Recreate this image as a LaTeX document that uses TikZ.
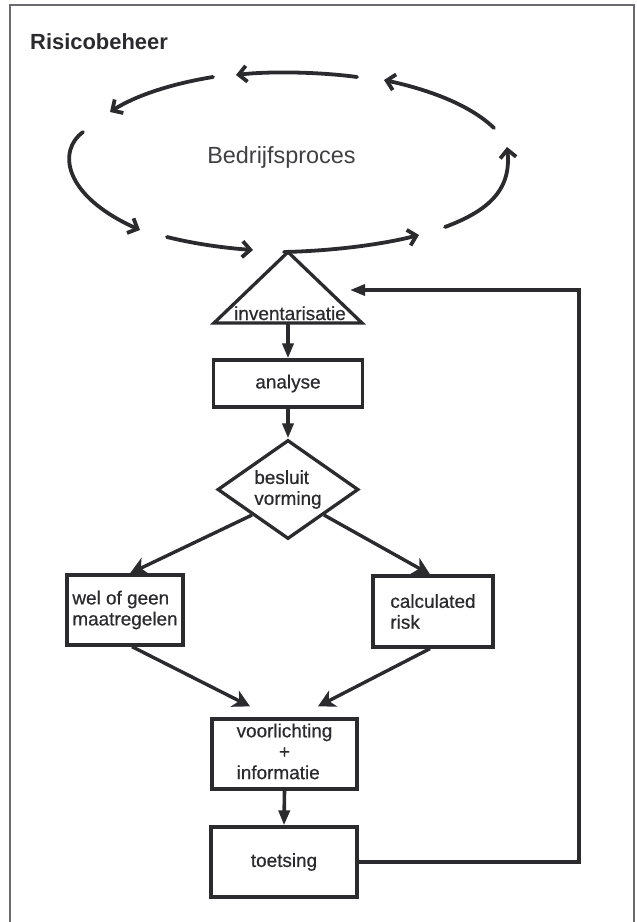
\documentclass[tikz,border=0pt]{standalone}
\usepackage{fontspec}
\setmainfont{Liberation Sans}
\newfontfamily\labelfont{Liberation Sans}[FakeBold=0.6]
\usetikzlibrary{arrows.meta,shapes.geometric}
\definecolor{ink}{HTML}{2B2B2E}
\definecolor{frame}{HTML}{6A6A70}

\begin{document}
\begin{tikzpicture}[x=1bp,y=-1bp,
  every node/.style={text=ink},
  lbl/.style={font=\labelfont\fontsize{19}{21}\selectfont},
  box/.style={rectangle, draw=ink, line width=3.3bp, inner sep=0pt, lbl},
  cyc/.style={draw=ink, line width=3.8bp, line cap=round, -{Straight Barb[length=8bp,width=16bp]}},
  link/.style={draw=ink, line width=3.4bp, -{Stealth[length=17bp,width=18bp,inset=5bp]}},
  down/.style={draw=ink, line width=3.6bp, -{Triangle[length=15bp,width=11bp]}},
]
\useasboundingbox (0,0) rectangle (637,922);

% outer frame, open at the bottom
\draw[frame, line width=1.5bp] (10,922) -- (10,5) -- (634,5) -- (634,922);

% headings
\node[anchor=base west, inner sep=0pt, font=\bfseries\fontsize{22}{24}\selectfont] (title) at (30,49) {Risicobeheer};
\node[anchor=base, inner sep=0pt, font=\fontsize{23.5}{26}\selectfont, text=ink!90] (proc) at (281.5,163) {Bedrijfsproces};

% cycle of the business process
\coordinate (apex) at (288,252);
\draw[cyc] (357,77) .. controls (320,72) and (270,71) .. (236,75);
\draw[cyc] (213,77) .. controls (170,84) and (135,96) .. (110,112);
\draw[cyc] (83,132) .. controls (58,150) and (62,195) .. (140,230);
\draw[cyc] (167,237) .. controls (195,244) and (225,248) .. (253,250);
\draw[cyc] ([xshift=-4bp]apex) .. controls (330,251) and (380,245) .. (419,235);
\draw[cyc] (445,227) .. controls (485,212) and (512,192) .. (507,147);
\draw[cyc] (494,128) .. controls (470,105) and (430,90) .. (384,80);

% inventory triangle
\coordinate (invbase) at (288,323);
\draw[draw=ink, line width=3.3bp, line join=miter] (214,323) -- (apex) -- (362,323) -- cycle;
\node[anchor=base, inner sep=0pt, lbl] (inv) at (290,320) {inventarisatie};

% flow steps
\node[box, minimum width=149bp, minimum height=47bp] (ana) at (288,383.5) {analyse};
\node[diamond, draw=ink, line width=3.3bp, aspect=1.42, minimum width=141bp, minimum height=99bp,
      inner sep=0pt, align=left, lbl] (dec) at (288,489.5) {besluit\\vorming};
\node[box, minimum width=116bp, minimum height=70bp, align=left] (wel) at (125,610) {wel of geen\\maatregelen};
\node[box, minimum width=120bp, minimum height=71bp, align=left] (calc) at (433,611.5) {calculated\\risk};
\node[box, minimum width=145bp, minimum height=70bp] (voor) at (284.5,754)
  {\begin{tabular}{@{}l@{}}voorlichting\\\multicolumn{1}{@{}c@{}}{+}\\informatie\end{tabular}};
\node[box, minimum width=146bp, minimum height=70bp] (toets) at (284,862) {toetsing};

% connectors
\draw[down] (invbase) -- (ana.north);
\draw[down] (ana.south) -- (dec.north);
\draw[link] (dec.south west) -- ([xshift=5bp]wel.north);
\draw[link] (dec.south east) -- ([xshift=-3bp]calc.north);
\draw[link] ([xshift=7bp]wel.south) -- ([xshift=-34.5bp,yshift=11bp]voor.north);
\draw[link] ([xshift=-3bp]calc.south) -- ([xshift=33.5bp,yshift=11bp]voor.north);
\draw[down] (voor.south) -- (toets.north);

% feedback loop back to the inventory
\coordinate (fbA) at (579,862);
\coordinate (fbB) at (579,290);
\coordinate (fbEnd) at (350,290);
\draw[down, line width=3.3bp, line join=miter] (toets.east) -- (fbA) -- (fbB) -- (fbEnd);
\end{tikzpicture}
\end{document}
